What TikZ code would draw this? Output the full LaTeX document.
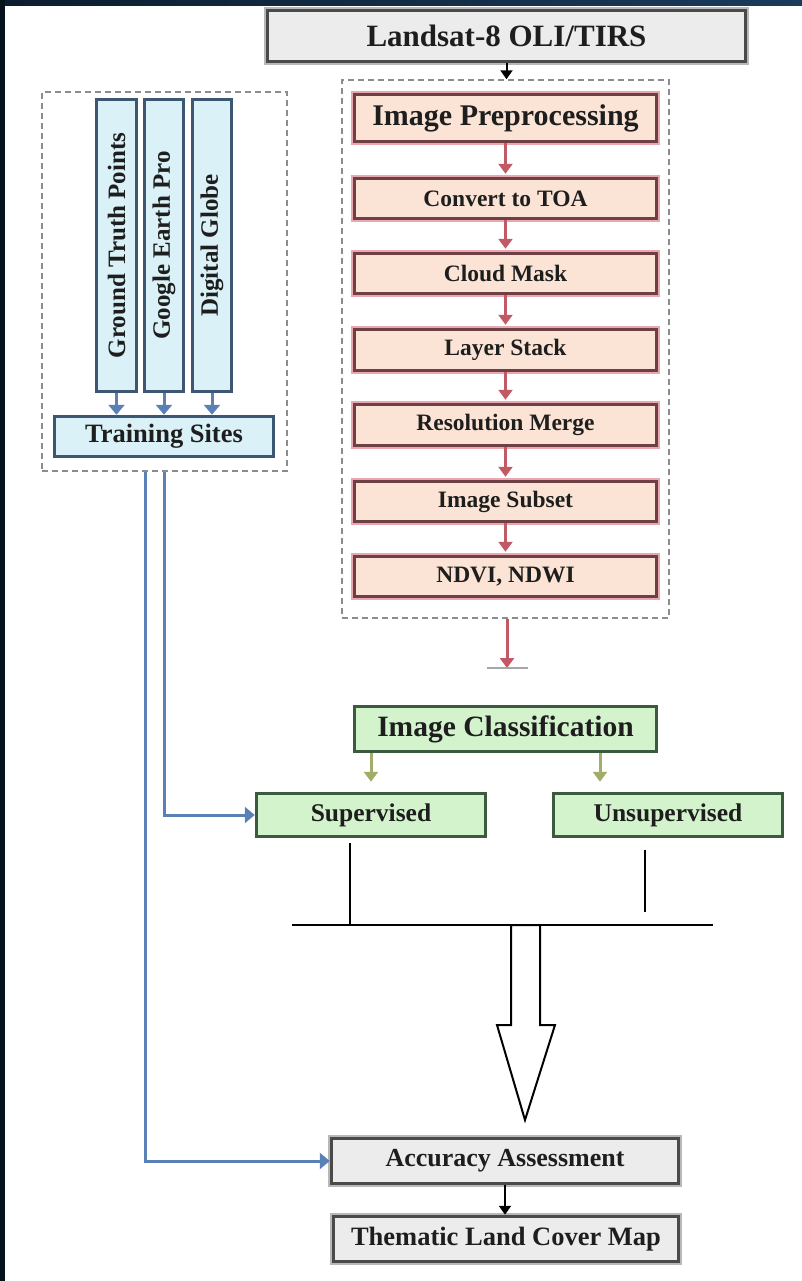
\documentclass[tikz,border=0pt]{standalone}
\usepackage{fontspec}
\setmainfont{Liberation Serif}
\usetikzlibrary{arrows.meta}
\definecolor{navyA}{HTML}{0B1D2E}
\definecolor{navyB}{HTML}{1B3B5C}
\definecolor{navyC}{HTML}{06121C}
\definecolor{txt}{HTML}{1E1E1E}
\definecolor{greyborder}{HTML}{4A4A4A}
\definecolor{greyfill}{HTML}{ECECEC}
\definecolor{greyglow}{HTML}{B8B8B8}
\definecolor{redborder}{HTML}{6E4043}
\definecolor{redfill}{HTML}{FBE4D5}
\definecolor{redglow}{HTML}{E9A7B0}
\definecolor{redarrowc}{HTML}{C25A66}
\definecolor{blueborder}{HTML}{3D5672}
\definecolor{bluefill}{HTML}{D9F1F7}
\definecolor{bluearrowc}{HTML}{5A80B6}
\definecolor{greenborder}{HTML}{3C5A3E}
\definecolor{greenfill}{HTML}{D3F3CD}
\definecolor{greenarrowc}{HTML}{A3AD68}
\definecolor{dashc}{HTML}{8C8C8C}
\newcommand\myfs[1]{\fontsize{#1bp}{#1bp}\selectfont\bfseries}
\tikzset{
  box/.style={draw, line width=3.5bp, inner sep=0pt, align=center, text=txt},
  greybox/.style={box, draw=greyborder, fill=greyfill, preaction={draw=greyglow, line width=7bp}},
  redbox/.style={box, draw=redborder, fill=redfill, preaction={draw=redglow, line width=7bp}, minimum width=302bp},
  bluebox/.style={box, draw=blueborder, fill=bluefill},
  greenbox/.style={box, draw=greenborder, fill=greenfill},
  dashbox/.style={draw=dashc, line width=1.5bp, dash pattern=on 6bp off 4bp, inner sep=0pt},
  redarrow/.style={draw=redarrowc, line width=3bp, -{Triangle[width=14bp,length=10bp]}, shorten >=3bp},
  bluearrow/.style={draw=bluearrowc, line width=3bp, -{Triangle[width=16bp,length=10bp]}},
  greenarrow/.style={draw=greenarrowc, line width=3bp, -{Triangle[width=14bp,length=10bp]}},
  blackarrow/.style={draw=black, line width=2bp, -{Triangle[width=12bp,length=9bp]}},
  thinline/.style={draw=black, line width=1.5bp},
}
\begin{document}
\begin{tikzpicture}[x=1bp,y=-1bp]
\useasboundingbox (0,0) rectangle (802,1281);
\fill[white] (0,0) rectangle (802,1281);
\shade[left color=navyA, right color=navyB] (0,0) rectangle (802,5);
\fill[navyC] (0,0) rectangle (5,1281);

% top source
\node[greybox, minimum width=478bp, minimum height=51bp, font=\myfs{31}] (landsat) at (506.5,36) {Landsat-8 OLI/TIRS};

% preprocessing group
\node[dashbox, minimum width=327bp, minimum height=538bp] (prep) at (505.5,349) {};
\node[redbox, minimum height=47bp, font=\myfs{30}] (pre) at (505.5,118) {Image Preprocessing};
\node[redbox, minimum height=40bp, font=\myfs{23.5}] (toa) at (505.5,198.5) {Convert to TOA};
\node[redbox, minimum height=40bp, font=\myfs{23.5}] (cloud) at (505.5,273.5) {Cloud Mask};
\node[redbox, minimum height=41bp, font=\myfs{23.5}] (layer) at (505.5,350) {Layer Stack};
\node[redbox, minimum height=41bp, font=\myfs{23.5}] (res) at (505.5,425) {Resolution Merge};
\node[redbox, minimum height=40bp, font=\myfs{23.5}] (subset) at (505.5,501.5) {Image Subset};
\node[redbox, minimum height=40bp, font=\myfs{23.5}] (ndvi) at (505.5,576.5) {NDVI, NDWI};

% training group
\node[dashbox, minimum width=245bp, minimum height=379bp] (lbox) at (164.5,281.5) {};
\node[bluebox, minimum width=40bp, minimum height=292bp, font=\myfs{25}] (gtp) at (116.5,245.5) {\rotatebox{90}{Ground Truth Points}};
\node[bluebox, minimum width=39bp, minimum height=292bp, font=\myfs{25}] (gep) at (164,245.5) {\rotatebox{90}{Google Earth Pro}};
\node[bluebox, minimum width=39bp, minimum height=292bp, font=\myfs{25}] (dg) at (212,245.5) {\rotatebox{90}{Digital Globe}};
\node[bluebox, minimum width=219bp, minimum height=40bp, font=\myfs{26.5}] (train) at (164,436.5) {Training Sites};

% classification
\node[greenbox, minimum width=302bp, minimum height=45bp, font=\myfs{29.5}] (imgc) at (505.5,729) {Image Classification};
\node[greenbox, minimum width=229bp, minimum height=43bp, font=\myfs{25.5}] (sup) at (371,815) {Supervised};
\node[greenbox, minimum width=229bp, minimum height=43bp, font=\myfs{25.5}] (unsup) at (668,815) {Unsupervised};

% outputs
\node[greybox, minimum width=347bp, minimum height=45bp, font=\myfs{26}] (acc) at (505,1161) {Accuracy Assessment};
\node[greybox, minimum width=345bp, minimum height=45bp, font=\myfs{26.5}] (them) at (506,1239) {Thematic Land Cover Map};

% connectors
\draw[blackarrow] (landsat.south) -- (landsat.south |- prep.north);
\draw[redarrow] (pre.south) -- (toa.north);
\draw[redarrow] (toa.south) -- (cloud.north);
\draw[redarrow] (cloud.south) -- (layer.north);
\draw[redarrow] (layer.south) -- (res.north);
\draw[redarrow] (res.south) -- (subset.north);
\draw[redarrow] (subset.south) -- (ndvi.north);
\coordinate (redend) at (507,668);
\draw[redarrow, shorten >=0bp] (prep.south -| redend) -- (redend);
\draw[draw=gray!70, line width=1.2bp] (487,668) -- (528,668);

\draw[bluearrow] (gtp.south) -- (gtp.south |- train.north);
\draw[bluearrow] (gep.south) -- (gep.south |- train.north);
\draw[bluearrow] (dg.south) -- (dg.south |- train.north);
\draw[bluearrow] (lbox.south) |- (sup.west);
\draw[bluearrow] ([xshift=-19.5bp]lbox.south) |- (acc.west);

\draw[greenarrow, shorten >=10bp] (sup.north |- imgc.south) -- (sup.north);
\draw[greenarrow, shorten >=10bp] ([xshift=94.5bp]imgc.south) -- ([xshift=94.5bp]imgc.south |- unsup.north);

\coordinate (hl) at (292,925);
\coordinate (hr) at (713,925);
\coordinate (u1) at (645,850);
\coordinate (u2) at (645,912);
\draw[thinline] (hl) -- (hr);
\draw[thinline, shorten <=5bp] ([xshift=-21bp]sup.south) -- ([xshift=-21bp]sup.south |- hl);
\draw[thinline] (u1) -- (u2);

% hollow block arrow
\draw[line width=2bp, fill=white, line join=miter]
  (511,925) -- (511,1025) -- (497,1025) -- (525,1120) -- (555,1025) -- (540,1025) -- (540,925) -- cycle;

\draw[blackarrow] (acc.south) -- (acc.south |- them.north);
\end{tikzpicture}
\end{document}
